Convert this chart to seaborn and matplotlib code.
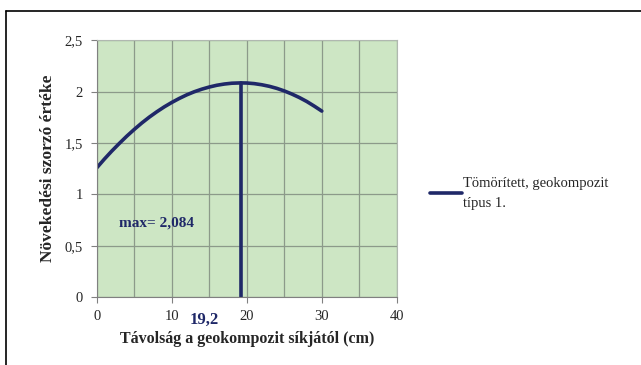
import matplotlib
matplotlib.use("Agg")
import matplotlib.pyplot as plt
import seaborn as sns
import pandas as pd
from matplotlib.lines import Line2D

distance_cm = [0, 1, 2, 3, 4, 5, 6, 7, 8, 9, 10, 11, 12, 13, 14, 15, 16, 17, 18, 19.2,
               20, 21, 22, 23, 24, 25, 26, 27, 28, 29, 30]
multiplier = [1.258, 1.342, 1.421, 1.495, 1.566, 1.632, 1.694, 1.751, 1.803, 1.851, 1.894,
              1.933, 1.968, 1.998, 2.023, 2.044, 2.061, 2.073, 2.081, 2.084,
              2.083, 2.077, 2.066, 2.051, 2.031, 2.006, 1.976, 1.942, 1.903, 1.858, 1.810]
max_x = 19.2
max_y = 2.084
series_name = "Tömörített, geokompozit\ntípus 1."
x_ticks = [0, 10, 20, 30, 40]
y_ticks = [0, 0.5, 1, 1.5, 2, 2.5]
y_tick_labels = ["0", "0,5", "1", "1,5", "2", "2,5"]

df = pd.DataFrame({"x": distance_cm, "y": multiplier, "s": series_name})

sns.set_style("white")
plt.rcParams["font.family"] = ["Liberation Serif", "DejaVu Serif"]

navy = "#1f2868"
fig = plt.figure(figsize=(6.41, 3.65), dpi=100)
ax = fig.add_axes([0.151, 0.186, 0.468, 0.704])
ax.set_facecolor("#cde6c4")

sns.lineplot(data=df, x="x", y="y", hue="s", palette=[navy], lw=2.6, ax=ax, legend=True)
ax.plot([max_x, max_x], [0, max_y], color=navy, lw=2.6)

ax.set_xlim(0, 40)
ax.set_ylim(0, 2.5)
ax.set_xticks(x_ticks)
ax.set_xticks([5, 15, 25, 35], minor=True)
ax.set_yticks(y_ticks)
ax.set_yticklabels(y_tick_labels)
ax.grid(True, which="both", color="#8c9a8a", lw=0.9)
ax.set_axisbelow(True)
ax.tick_params(axis="both", which="major", labelsize=10.5, length=4, width=0.8,
               color="#808080", direction="out", bottom=True, left=True)
ax.tick_params(axis="x", which="major", pad=5)
ax.tick_params(axis="y", which="major", pad=6)
ax.tick_params(axis="x", which="minor", length=0, bottom=False)
for side in ["left", "bottom"]:
    ax.spines[side].set_color("#808080")
for side in ["top", "right"]:
    ax.spines[side].set_color("#b0b8b0")

ax.set_xlabel("Távolság a geokompozit síkjától (cm)", fontsize=11.5, fontweight="bold", labelpad=6)
ax.set_ylabel("Növekedési szorzó értéke", fontsize=12.5, fontweight="bold", labelpad=6)

ax.text(3.0, 0.72, "max= 2,084", color=navy, fontsize=11, fontweight="bold", va="center", ha="left")
ax.text(14.3, -0.225, "19,2", color=navy, fontsize=12, fontweight="bold", va="center", ha="center",
        transform=ax.transData, clip_on=False)

leg = ax.legend(loc="center left", bbox_to_anchor=(1.09, 0.405), frameon=False, fontsize=10.5,
                handlelength=2.2, handletextpad=0.1, borderaxespad=0)
for t in leg.get_texts():
    t.set_linespacing(1.7)
for h in leg.get_lines():
    h.set_linewidth(2.6)

fig.add_artist(Line2D([6 / 641, 6 / 641], [0, 1 - 11 / 365], color="black", lw=1.2, transform=fig.transFigure))
fig.add_artist(Line2D([6 / 641, 1], [1 - 11 / 365, 1 - 11 / 365], color="black", lw=1.2, transform=fig.transFigure))

fig.savefig("out.png", dpi=100)
